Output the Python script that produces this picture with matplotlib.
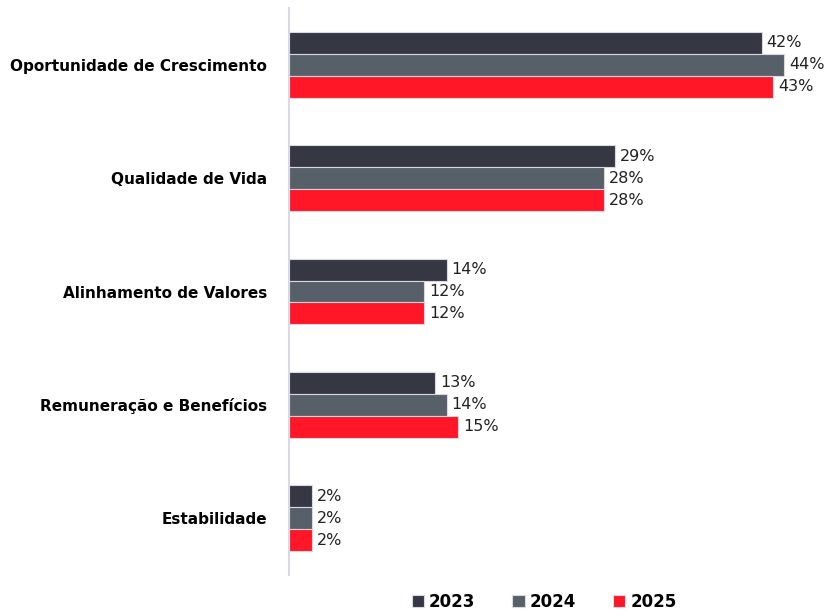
import matplotlib
matplotlib.use("Agg")
import matplotlib.pyplot as plt  # noqa: E402
import numpy as np  # noqa: E402

CATS = ["Oportunidade de Crescimento", "Qualidade de Vida",
        "Alinhamento de Valores", "Remuneração e Benefícios", "Estabilidade"]
YEARS = ["2023", "2024", "2025"]
V2023 = [42, 29, 14, 13, 2]
V2024 = [44, 28, 12, 14, 2]
V2025 = [43, 28, 12, 15, 2]
COLOR = {"2023": "#353842", "2024": "#575F68", "2025": "#FF1728"}

plt.rcParams.update({"font.family": ["DejaVu Sans"]})

fig = plt.figure(figsize=(8.24, 6.11), dpi=100)
ax = fig.add_axes([289 / 824, 1 - 575 / 611, 1 - 289 / 824, 567 / 611])

y = np.arange(len(CATS))
h = 0.194
for k, (yr, vals) in enumerate(zip(YEARS, (V2023, V2024, V2025))):
    pos = y + (k - 1) * h
    bars = ax.barh(pos, vals, h, color=COLOR[yr], edgecolor="#d8d8e0",
                   linewidth=0.8, label=yr)
    for b, v in zip(bars, vals):
        ax.text(v + 0.45, b.get_y() + h / 2, f"{v}%", va="center",
                ha="left", fontsize=11.5, color="#222222")

ax.set_xlim(0, (824 - 289) / 11.25)
ax.set_ylim(len(CATS) - 0.5, -0.5)
ax.set_yticks(y, CATS, fontsize=11, fontweight="bold")
ax.tick_params(axis="y", length=0, pad=16)
ax.set_xticks([])
for s in ("top", "right", "bottom"):
    ax.spines[s].set_visible(False)
ax.spines["left"].set_color("#d9d9e6")
ax.spines["left"].set_linewidth(1.5)

fig.legend(loc="center", bbox_to_anchor=(544 / 824, 0.015), ncol=3,
           frameon=False, prop={"weight": "bold", "size": 12},
           handlelength=0.75, handleheight=0.75, handletextpad=0.3,
           columnspacing=2.2)

fig.savefig("out.png", dpi=100)
